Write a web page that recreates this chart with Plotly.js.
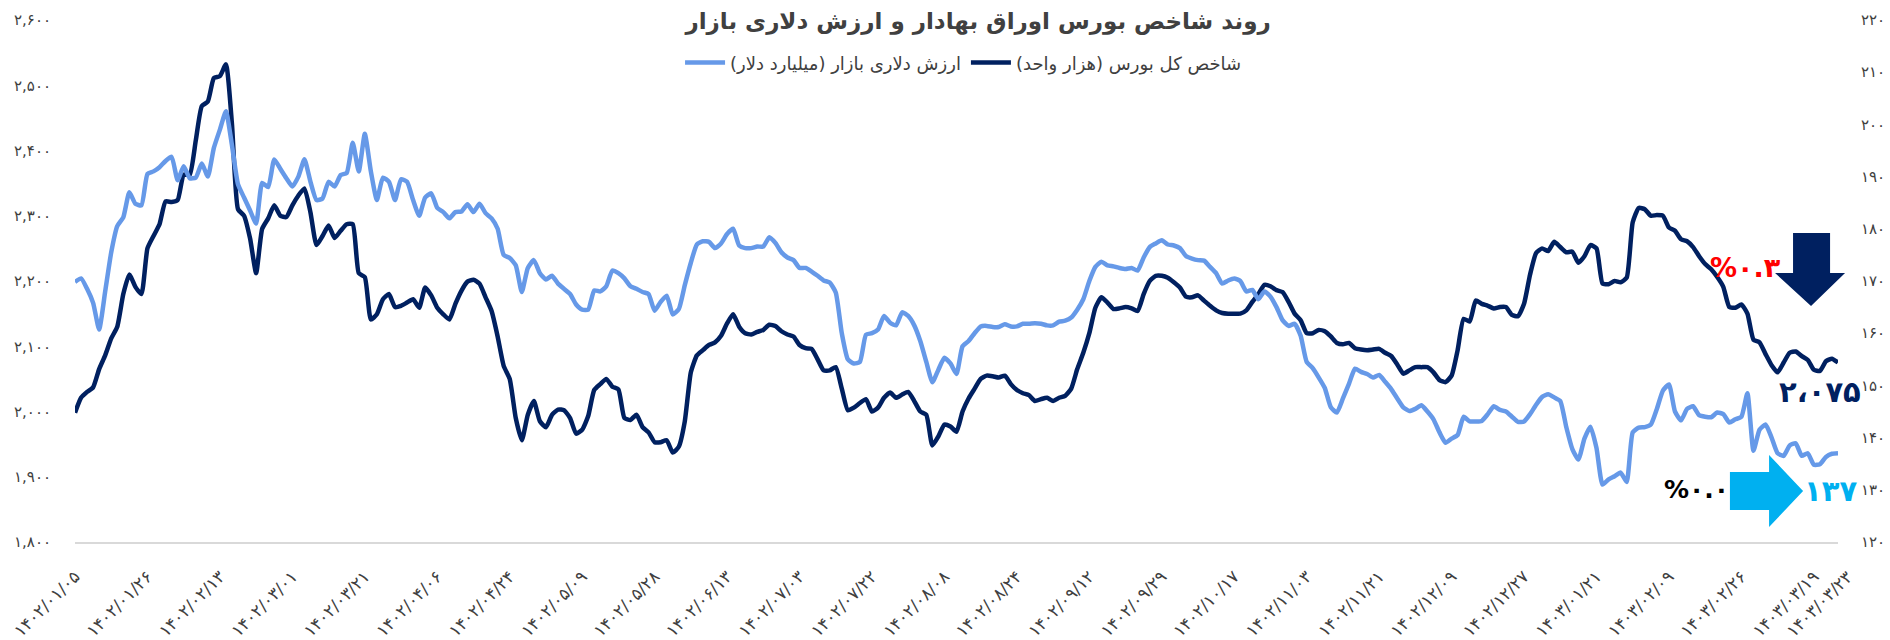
<!DOCTYPE html>
<html>
<head>
<meta charset="utf-8">
<script src="https://cdn.plot.ly/plotly-3.0.1.min.js"></script>
<style>html,body{margin:0;padding:0;background:#fff;}#chart{width:1890px;height:640px;}</style>
</head>
<body>
<div id="chart"></div>
<script>
// Trading-day index along the category axis (one value per day)
const tedpix = [
1998,2021,2030,2037,2065,2086,2112,2130,2180,2210,2191,2180,2250,2269,2287,2322,2321,2324,2363,2363,
2415,2468,2475,2511,2514,2532,2440,2310,2300,2265,2212,2280,2296,2316,2300,2298,2316,2331,2342,2305,
2255,2269,2285,2266,2277,2287,2287,2212,2206,2141,2149,2172,2180,2160,2162,2167,2172,2159,2190,2178,
2159,2149,2141,2165,2185,2199,2202,2196,2175,2154,2115,2070,2050,1990,1956,1995,2016,1985,1976,1995,
2003,2002,1990,1966,1972,1993,2033,2042,2050,2038,2034,1990,1987,1995,1976,1968,1953,1953,1956,1937,
1946,1985,2060,2086,2094,2102,2106,2116,2135,2149,2130,2120,2118,2122,2125,2133,2131,2123,2118,2115,
2102,2097,2096,2080,2063,2063,2068,2035,2002,2006,2013,2019,2000,2006,2021,2029,2021,2026,2030,2016,
2000,1995,1948,1962,1980,1977,1969,2000,2020,2035,2050,2055,2054,2052,2055,2042,2033,2028,2025,2016,
2019,2021,2016,2021,2024,2035,2065,2090,2120,2159,2175,2167,2157,2158,2160,2158,2154,2180,2200,2208,
2208,2205,2198,2190,2176,2175,2178,2170,2162,2155,2151,2150,2150,2150,2155,2168,2180,2194,2192,2186,
2183,2168,2150,2140,2120,2120,2125,2123,2115,2105,2103,2105,2097,2095,2094,2095,2096,2090,2085,2072,
2058,2063,2068,2068,2068,2060,2048,2045,2055,2094,2142,2138,2170,2165,2162,2158,2160,2160,2148,2146,
2165,2210,2243,2250,2246,2260,2252,2244,2245,2228,2238,2255,2250,2196,2195,2200,2198,2205,2290,2312,
2310,2300,2301,2300,2282,2277,2264,2261,2252,2238,2226,2218,2206,2191,2160,2159,2164,2150,2110,2106,
2088,2071,2060,2075,2090,2092,2085,2079,2064,2062,2077,2081,2075
];
const usdValue = [
169.8,170.5,168.5,165.8,160.7,168.0,175.5,180.5,182.2,187.0,184.8,184.5,190.5,191.0,191.8,193.0,193.8,189.3,192.0,189.7,
189.8,192.5,190.0,195.5,199.0,202.5,196.0,188.5,186.0,183.5,181.0,188.8,188.0,193.3,191.5,189.7,188.1,190.0,193.3,189.0,
185.5,185.8,189.0,188.1,190.3,190.7,196.5,191.0,198.2,191.0,185.5,189.8,189.0,185.5,189.5,189.0,185.5,182.5,186.0,186.8,
184.0,183.2,182.0,183.2,183.3,184.7,183.2,184.8,183.0,182.0,180.0,175.0,174.4,173.0,167.9,172.5,174.0,171.5,170.3,171.0,
169.5,168.5,167.5,165.5,164.5,164.5,168.2,168.0,169.0,172.0,171.5,170.5,169.0,168.5,167.9,167.5,164.3,166.0,167.2,163.6,
164.6,169.2,173.5,177.0,177.6,177.5,176.3,177.2,179.0,180.0,176.8,176.3,176.3,176.6,176.6,178.4,177.3,175.5,174.5,174.0,
172.5,172.5,171.8,171.0,170.1,169.7,167.8,160.0,155.0,154.2,154.5,159.7,160.0,160.7,163.3,162.0,161.5,164.0,163.3,161.5,
158.5,154.5,150.6,153.0,155.3,154.2,152.2,157.5,158.5,160.0,161.3,161.4,161.2,161.2,161.7,161.3,161.3,161.8,161.8,161.9,
161.8,161.5,161.5,162.2,162.4,163.0,164.5,166.5,170.0,172.7,173.7,173.0,172.8,172.5,172.3,172.5,172.0,174.5,176.5,177.2,
177.8,177.0,176.8,176.3,174.8,174.3,174.0,173.9,172.7,171.5,169.5,170.1,170.5,170.0,168.0,168.3,166.5,168.0,167.0,165.0,
162.5,161.4,161.8,159.5,154.5,153.3,151.5,149.5,145.8,144.8,147.5,150.3,153.2,152.6,152.2,151.5,152.0,150.7,149.3,147.5,
145.8,145.1,145.5,146.2,145.0,143.5,141.0,139.0,139.8,140.5,144.0,143.1,143.1,143.2,144.5,146.0,145.3,145.0,144.0,143.0,
143.1,144.5,146.3,147.8,148.3,147.7,147.0,142.0,137.8,135.8,139.8,142.1,138.0,131.0,132.0,132.6,133.3,131.5,141.0,141.9,
142.0,142.5,145.5,149.0,150.2,145.0,143.3,145.5,146.0,144.3,144.0,143.9,144.8,144.5,142.9,143.5,144.0,148.5,137.5,141.5,
142.5,140.0,137.0,136.5,138.5,138.9,136.5,137.0,134.8,134.9,136.3,136.9,137.0
];
const dayIndex = tedpix.map((_, i) => i);

const xTickIndex = [0,12,24,36,48,60,72,84,96,108,120,132,144,156,168,180,192,204,216,228,240,252,264,276,288];
const xTickLabels = ['۱۴۰۲/۰۱/۰۵','۱۴۰۲/۰۱/۲۶','۱۴۰۲/۰۲/۱۳','۱۴۰۲/۰۳/۰۱','۱۴۰۲/۰۳/۲۱','۱۴۰۲/۰۴/۰۶','۱۴۰۲/۰۴/۲۴',
  '۱۴۰۲/۰۵/۰۹','۱۴۰۲/۰۵/۲۸','۱۴۰۲/۰۶/۱۳','۱۴۰۲/۰۷/۰۳','۱۴۰۲/۰۷/۲۲','۱۴۰۲/۰۸/۰۸','۱۴۰۲/۰۸/۲۴','۱۴۰۲/۰۹/۱۲',
  '۱۴۰۲/۰۹/۲۹','۱۴۰۲/۱۰/۱۷','۱۴۰۲/۱۱/۰۳','۱۴۰۲/۱۱/۲۱','۱۴۰۲/۱۲/۰۹','۱۴۰۲/۱۲/۲۷','۱۴۰۳/۰۱/۲۱','۱۴۰۳/۰۲/۰۹',
  '۱۴۰۳/۰۲/۲۶','۱۴۰۳/۰۳/۱۹'];
const lastDateLabel = '۱۴۰۳/۰۳/۲۳';
const leftTickVals = [1800,1900,2000,2100,2200,2300,2400,2500,2600];
const leftTickText = ['۱,۸۰۰','۱,۹۰۰','۲,۰۰۰','۲,۱۰۰','۲,۲۰۰','۲,۳۰۰','۲,۴۰۰','۲,۵۰۰','۲,۶۰۰'];
const rightTickVals = [120,130,140,150,160,170,180,190,200,210,220];
const rightTickText = ['۱۲۰','۱۳۰','۱۴۰','۱۵۰','۱۶۰','۱۷۰','۱۸۰','۱۹۰','۲۰۰','۲۱۰','۲۲۰'];

const seriesNames = ['ارزش دلاری بازار (میلیارد دلار)\u200F', 'شاخص کل بورس (هزار واحد)\u200F'];
const titleText = 'روند شاخص بورس اوراق بهادار و ارزش دلاری بازار';
const lastIndexLabel = '۲،۰۷۵';
const lastUsdLabel = '۱۳۷';
const indexChange = '%۰.۳';
const usdChange = '%۰.۰';

const FONT = "'DejaVu Sans', 'Noto Sans', sans-serif";
const GRAY = '#404040';
const NAVY = '#002060';
const LIGHT = '#6699E8';
const CYAN = '#00B0F0';

const traces = [
  {x: dayIndex, y: usdValue, yaxis: 'y2', type: 'scatter', mode: 'lines', name: seriesNames[0],
   line: {color: LIGHT, width: 4.5, shape: 'spline', smoothing: 0.5}},
  {x: dayIndex, y: tedpix, yaxis: 'y', type: 'scatter', mode: 'lines', name: seriesNames[1],
   line: {color: NAVY, width: 4.5, shape: 'spline', smoothing: 0.5}}
];

const layout = {
  width: 1890, height: 640,
  margin: {l: 75, r: 52, t: 20, b: 98},
  paper_bgcolor: '#fff', plot_bgcolor: '#fff',
  font: {family: FONT, color: GRAY, size: 15},
  title: {text: '<b>' + titleText + '</b>', font: {family: FONT, size: 23, color: GRAY},
          xref: 'container', x: 0.5175, xanchor: 'center', yref: 'container', y: 0.968, yanchor: 'middle'},
  showlegend: true,
  legend: {orientation: 'h', x: 0.504, xanchor: 'center', y: 0.918, yanchor: 'middle',
           font: {family: FONT, size: 18, color: GRAY}, traceorder: 'normal', itemwidth: 40,
           bgcolor: 'rgba(0,0,0,0)'},
  xaxis: {range: [0, 292], showgrid: false, zeroline: false, showline: true, linecolor: '#D9D9D9', linewidth: 2,
          tickmode: 'array', tickvals: xTickIndex, ticktext: xTickLabels, tickangle: -45,
          ticks: 'outside', ticklen: 16, tickcolor: 'rgba(0,0,0,0)',
          tickfont: {family: FONT, size: 17, color: GRAY}},
  yaxis: {range: [1800, 2600], showgrid: false, zeroline: false, showline: false,
          ticks: 'outside', ticklen: 20, tickcolor: 'rgba(0,0,0,0)',
          tickmode: 'array', tickvals: leftTickVals, ticktext: leftTickText,
          tickfont: {family: FONT, size: 15, color: GRAY}},
  yaxis2: {range: [120, 220], overlaying: 'y', side: 'right', showgrid: false, zeroline: false, showline: false,
           ticks: 'outside', ticklen: 19, tickcolor: 'rgba(0,0,0,0)',
           tickmode: 'array', tickvals: rightTickVals, ticktext: rightTickText,
           tickfont: {family: FONT, size: 15, color: GRAY}},
  shapes: [
    {type: 'path', xref: 'paper', yref: 'paper', fillcolor: NAVY, line: {width: 0},
     path: 'M 0.9745,0.5920 L 0.9955,0.5920 L 0.9955,0.5153 L 1.0040,0.5153 L 0.9847,0.4521 L 0.9643,0.5153 L 0.9745,0.5153 Z'},
    {type: 'path', xref: 'paper', yref: 'paper', fillcolor: CYAN, line: {width: 0},
     path: 'M 0.9387,0.1341 L 0.9609,0.1341 L 0.9609,0.1667 L 0.9802,0.0977 L 0.9609,0.0287 L 0.9609,0.0613 L 0.9387,0.0613 Z'}
  ],
  annotations: [
    {xref: 'paper', yref: 'paper', x: 0.9478, y: 0.5268, text: '<b>' + indexChange + '</b>', showarrow: false,
     font: {family: FONT, size: 27, color: '#FF0000'}, xanchor: 'center', yanchor: 'middle'},
    {xref: 'paper', yref: 'paper', x: 0.9898, y: 0.2874, text: '<b>' + lastIndexLabel + '</b>', showarrow: false,
     font: {family: FONT, size: 29, color: NAVY}, xanchor: 'center', yanchor: 'middle'},
    {xref: 'paper', yref: 'paper', x: 0.9200, y: 0.1015, text: '<b>' + usdChange + '</b>', showarrow: false,
     font: {family: FONT, size: 25, color: '#000000'}, xanchor: 'center', yanchor: 'middle'},
    {xref: 'paper', yref: 'paper', x: 0.9955, y: 0.0977, text: '<b>' + lastUsdLabel + '</b>', showarrow: false,
     font: {family: FONT, size: 29, color: CYAN}, xanchor: 'center', yanchor: 'middle'},
    {xref: 'paper', yref: 'paper', x: 1.012, y: -0.042, text: lastDateLabel, showarrow: false, textangle: -45,
     font: {family: FONT, size: 17, color: GRAY}, xanchor: 'right', yanchor: 'top'}
  ]
};

Plotly.newPlot('chart', traces, layout, {displayModeBar: false, staticPlot: true});
</script>
</body>
</html>
